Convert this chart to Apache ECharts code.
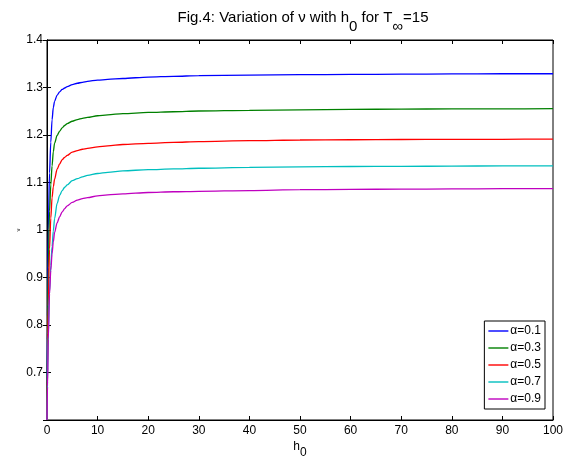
<!DOCTYPE html>
<html>
<head>
<meta charset="utf-8">
<script src="https://cdn.jsdelivr.net/npm/echarts@6/dist/echarts.min.js"></script>
<style>html,body{margin:0;padding:0;background:#fff;}#c{width:578px;height:457px;}</style>
</head>
<body>
<div id="c"></div>
<script>
const hValues = [0, 0.1, 0.25, 0.5, 0.75, 1, 1.25, 1.5, 2, 2.5, 3, 3.5, 4, 5, 6, 7, 8, 10, 12, 15, 20, 25, 30, 40, 50, 60, 70, 80, 90, 100];
const alpha01 = [0.60, 0.82, 1.00, 1.12, 1.185, 1.232, 1.258, 1.271, 1.284, 1.291, 1.296, 1.299, 1.302, 1.306, 1.309, 1.311, 1.313, 1.3155, 1.317, 1.319, 1.322, 1.3235, 1.325, 1.326, 1.327, 1.3275, 1.328, 1.3285, 1.329, 1.329];
const alpha03 = [0.60, 0.77, 0.92, 1.04, 1.095, 1.135, 1.165, 1.183, 1.199, 1.208, 1.215, 1.220, 1.224, 1.229, 1.2325, 1.235, 1.237, 1.2405, 1.2425, 1.245, 1.2475, 1.249, 1.2505, 1.252, 1.253, 1.254, 1.2545, 1.255, 1.255, 1.2555];
const alpha05 = [0.60, 0.71, 0.84, 0.96, 1.025, 1.068, 1.091, 1.107, 1.128, 1.139, 1.148, 1.153, 1.157, 1.164, 1.167, 1.170, 1.172, 1.175, 1.177, 1.180, 1.1825, 1.1845, 1.186, 1.188, 1.1895, 1.190, 1.1905, 1.191, 1.191, 1.1915];
const alpha07 = [0.60, 0.68, 0.78, 0.87, 0.925, 0.965, 0.998, 1.024, 1.056, 1.073, 1.083, 1.090, 1.095, 1.104, 1.108, 1.112, 1.115, 1.119, 1.1215, 1.1245, 1.127, 1.1285, 1.130, 1.132, 1.133, 1.1337, 1.134, 1.1345, 1.135, 1.135];
const alpha09 = [0.60, 0.67, 0.77, 0.865, 0.915, 0.950, 0.975, 0.995, 1.015, 1.028, 1.038, 1.045, 1.051, 1.058, 1.063, 1.066, 1.068, 1.072, 1.074, 1.076, 1.079, 1.0805, 1.0815, 1.083, 1.0848, 1.0855, 1.086, 1.0865, 1.087, 1.087];
const seriesNames = ['α=0.1', 'α=0.3', 'α=0.5', 'α=0.7', 'α=0.9'];
const seriesColors = ['#0000ff', '#008000', '#ff0000', '#00bfbf', '#bf00bf'];
const seriesValues = [alpha01, alpha03, alpha05, alpha07, alpha09];
const xTicks = [0, 10, 20, 30, 40, 50, 60, 70, 80, 90, 100];
const yTicks = [0.7, 0.8, 0.9, 1, 1.1, 1.2, 1.3, 1.4];

const font = 'Liberation Sans, Arial, sans-serif';
const chart = echarts.init(document.getElementById('c'), null, {renderer: 'canvas'});
const tickStyle = {show: true, inside: true, length: 4, lineStyle: {color: '#000', width: 1}};
const option = {
  backgroundColor: '#fff',
  animation: false,
  title: {
    text: 'Fig.4: Variation of ν with h{s|0} for T{s|∞}=15',
    left: 298, textAlign: 'center', top: 5,
    textStyle: {
      fontFamily: font, fontSize: 15, fontWeight: 'normal', color: '#000', lineHeight: 16,
      rich: {s: {fontFamily: font, fontSize: 15, color: '#000', lineHeight: 16, verticalAlign: 'top', padding: [9, 0, 0, 0]}}
    }
  },
  grid: {left: 47, right: 25, top: 40, bottom: 37, show: true, borderColor: '#000', borderWidth: 1,
    backgroundColor: '#fff', containLabel: false, outerBoundsMode: 'none'},
  legend: {
    orient: 'vertical', right: 33, top: 321,
    backgroundColor: '#fff', borderColor: '#000', borderWidth: 1,
    padding: [4, 4, 4, 4], itemWidth: 20, itemHeight: 12, itemGap: 5,
    icon: 'path://M0,5.3 L20,5.3 L20,6.7 L0,6.7 Z',
    textStyle: {fontFamily: font, fontSize: 12, color: '#000', padding: [0, 0, 0, -3]},
    data: seriesNames
  },
  xAxis: [{
    type: 'value', min: 0, max: 100, interval: 10, position: 'bottom',
    axisLine: {show: true, lineStyle: {color: '#000', width: 1}},
    axisTick: tickStyle, splitLine: {show: false},
    axisLabel: {fontFamily: font, fontSize: 12, color: '#000', margin: 5,
      formatter: v => xTicks.includes(v) ? String(v) : ''},
    name: 'h{s|0}', nameLocation: 'middle', nameGap: 15, nameMoveOverlap: false,
    nameTextStyle: {fontFamily: font, fontSize: 12, color: '#000',
      rich: {s: {fontFamily: font, fontSize: 12, color: '#000', verticalAlign: 'top', padding: [12, 0, 0, 0]}}}
  }, {
    type: 'value', min: 0, max: 100, interval: 10, position: 'top',
    axisLine: {show: true, lineStyle: {color: '#000'}}, axisTick: tickStyle,
    axisLabel: {show: false}, splitLine: {show: false}
  }],
  yAxis: [{
    type: 'value', min: 0.6, max: 1.4, interval: 0.1, position: 'left',
    axisLine: {show: true, lineStyle: {color: '#000', width: 1}},
    axisTick: tickStyle, splitLine: {show: false},
    axisLabel: {fontFamily: font, fontSize: 12, color: '#000', margin: 4,
      formatter: v => {
        const r = Math.round(v * 10) / 10;
        return yTicks.includes(r) ? String(r) : '';
      }},
    name: 'ν', nameLocation: 'middle', nameGap: 26, nameRotate: 90, nameMoveOverlap: false,
    nameTextStyle: {fontFamily: font, fontSize: 6, color: '#000'}
  }, {
    type: 'value', min: 0.6, max: 1.4, interval: 0.1, position: 'right',
    axisLine: {show: true, lineStyle: {color: '#000'}}, axisTick: tickStyle,
    axisLabel: {show: false}, splitLine: {show: false}
  }],
  series: seriesNames.map((name, i) => ({
    name: name, type: 'line', xAxisIndex: 0, yAxisIndex: 0,
    data: hValues.map((h, j) => [h, seriesValues[i][j]]),
    symbol: 'none', showSymbol: false, smooth: 0.3, smoothMonotone: 'x',
    clip: true,
    lineStyle: {color: seriesColors[i], width: 1.3},
    itemStyle: {color: seriesColors[i]}
  }))
};
chart.setOption(option);
</script>
</body>
</html>
